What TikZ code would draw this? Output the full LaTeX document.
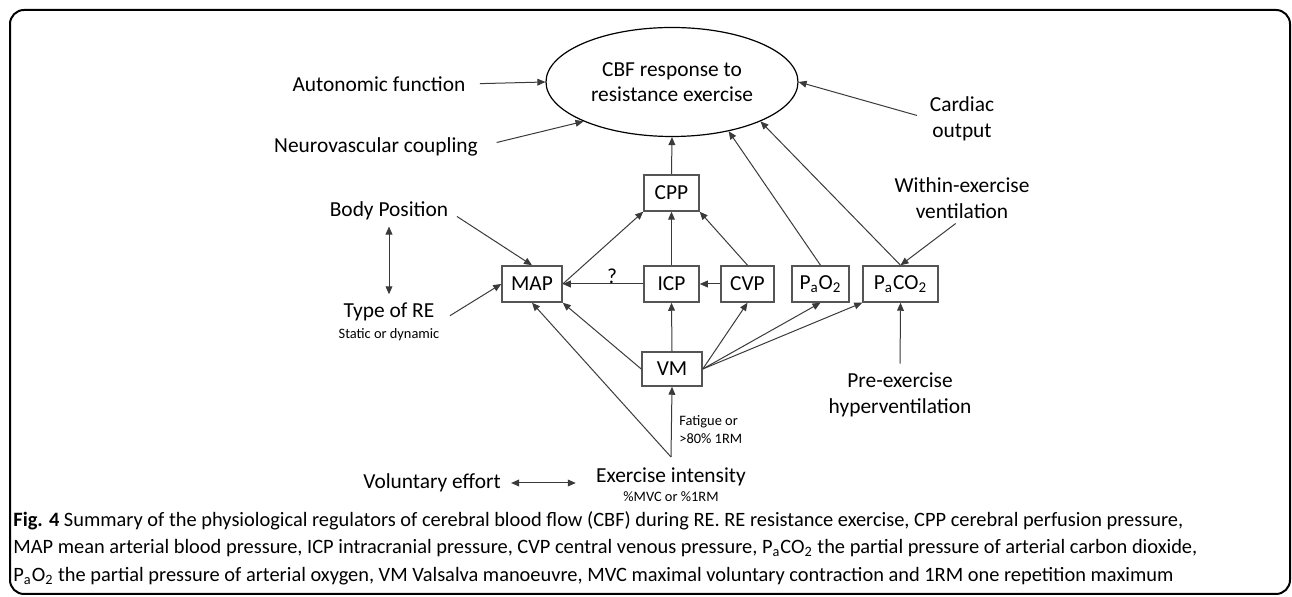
\documentclass[tikz,border=0pt]{standalone}
\usepackage{fontspec}
\setmainfont{Carlito}
\usetikzlibrary{arrows.meta,shapes.geometric}
\definecolor{linec}{HTML}{3A3A3A}
\definecolor{boxc}{HTML}{555555}
\newcommand{\mainf}{\fontsize{10.7}{12.8}\selectfont}
\newcommand{\smallf}{\fontsize{7.2}{9}\selectfont}
\tikzset{
  lab/.style={inner sep=0pt, align=center, font=\mainf},
  slab/.style={inner sep=0pt, align=left, font=\smallf},
  rbox/.style={draw=boxc, line width=0.75pt, minimum height=18pt, inner sep=0pt, font=\mainf},
  arr/.style={-{Triangle[length=4pt,width=3.4pt]}, line width=0.5pt, draw=linec},
  darr/.style={{Triangle[length=4pt,width=3.4pt]}-{Triangle[length=4pt,width=3.4pt]}, line width=0.5pt, draw=linec},
}
\begin{document}
\begin{tikzpicture}[x=0.5pt, y=-0.5pt]
\useasboundingbox (0,0) rectangle (1292,597);
\draw[line width=1pt, rounded corners=7pt] (10,10) rectangle (1290,594);

% nodes
\node[ellipse, draw=black, line width=0.6pt, minimum width=126pt, minimum height=54.5pt, inner sep=0pt, align=center, font=\mainf] (cbf) at (672,82) {CBF response to\\resistance exercise};
\node[lab] (auto) at (379,84) {Autonomic function};
\node[lab] (neuro) at (376,147) {Neurovascular coupling};
\node[lab] (cardiac) at (962,119) {Cardiac\\output};
\node[rbox, minimum width=27.5pt] (cpp) at (671.5,193) {CPP};
\node[lab] (bodypos) at (389,211) {Body Position};
\node[lab] (typere) at (389,322) {Type of RE\\[-2pt]{\smallf Static or dynamic}};
\node[rbox, minimum width=30pt] (map) at (532,284) {MAP};
\node[rbox, minimum width=27.5pt] (icp) at (671.5,284) {ICP};
\node[rbox, minimum width=26.5pt] (cvp) at (747.5,284) {CVP};
\node[rbox, minimum width=28.5pt] (pao2) at (820.5,284) {P\textsubscript{a}O\textsubscript{2}};
\node[rbox, minimum width=37.5pt] (paco2) at (900.5,284) {P\textsubscript{a}CO\textsubscript{2}};
\node[lab] (within) at (962,198) {Within-exercise\\ventilation};
\node[rbox, minimum width=30pt, minimum height=17pt] (vm) at (672,369) {VM};
\node[lab] (pre) at (900,395) {Pre-exercise\\hyperventilation};
\node[slab, anchor=west] (fatigue) at (679,430) {Fatigue or\\{>}80\% 1RM};
\coordinate (eitop) at (671,457);
\node[lab] (exint) at (671,485) {Exercise intensity\\[-3.5pt]{\smallf \%MVC or \%1RM}};
\node[lab] (vol) at (432,483) {Voluntary effort};
\node[lab] (q) at (612,276) {?};

% connectors
\draw[arr, shorten <=7pt] (auto.east) -- (cbf.west);
\draw[arr, shorten <=9.5pt] (neuro.east) -- (cbf.204);
\draw[arr, shorten <=6.5pt] (cardiac.west) -- (cbf.east);
\draw[arr] (cpp.north) -- (cbf.south);
\draw[arr] (pao2.north) -- (cbf.319);
\draw[arr] (paco2.north) -- (cbf.336);
\draw[arr, shorten <=5pt] (bodypos.east) -- (map.north);
\draw[darr, shorten <=3pt, shorten >=4pt] (bodypos.south) -- (typere.north);
\draw[arr, shorten <=6pt] (typere.east) -- (map.west);
\draw[arr] (map.east) -- (cpp.south west);
\draw[arr] (icp.north) -- (cpp.south);
\draw[arr] (cvp.north) -- (cpp.south east);
\draw[arr] (cvp.west) -- (icp.east);
\draw[arr] (icp.west) -- (map.east);
\draw[arr] (vm.west) -- (map.south east);
\draw[arr] (vm.north) -- (icp.south);
\draw[arr] (vm.east) -- (cvp.south);
\draw[arr] (vm.east) -- (pao2.south);
\draw[arr] (vm.east) -- (paco2.south west);
\draw[arr, shorten <=4pt] (within.south) -- (paco2.north);
\draw[arr, shorten <=4.5pt] (pre.north) -- (paco2.south);
\draw[arr] (eitop) -- (vm.south);
\draw[arr] (eitop) -- (map.south);
\draw[darr, shorten <=5pt, shorten >=10pt] (vol.east) -- (vol.east -| exint.west);

% caption
\node[inner sep=0pt, anchor=west, align=left, font=\fontsize{10.2}{13.8}\selectfont] (cap) at (13,548) {\textbf{Fig. 4} Summary of the physiological regulators of cerebral blood flow (CBF) during RE. RE resistance exercise, CPP cerebral perfusion pressure,\\
MAP mean arterial blood pressure, ICP intracranial pressure, CVP central venous pressure, P\textsubscript{a}CO\textsubscript{2} the partial pressure of arterial carbon dioxide,\\
P\textsubscript{a}O\textsubscript{2} the partial pressure of arterial oxygen, VM Valsalva manoeuvre, MVC maximal voluntary contraction and 1RM one repetition maximum};
\end{tikzpicture}
\end{document}
